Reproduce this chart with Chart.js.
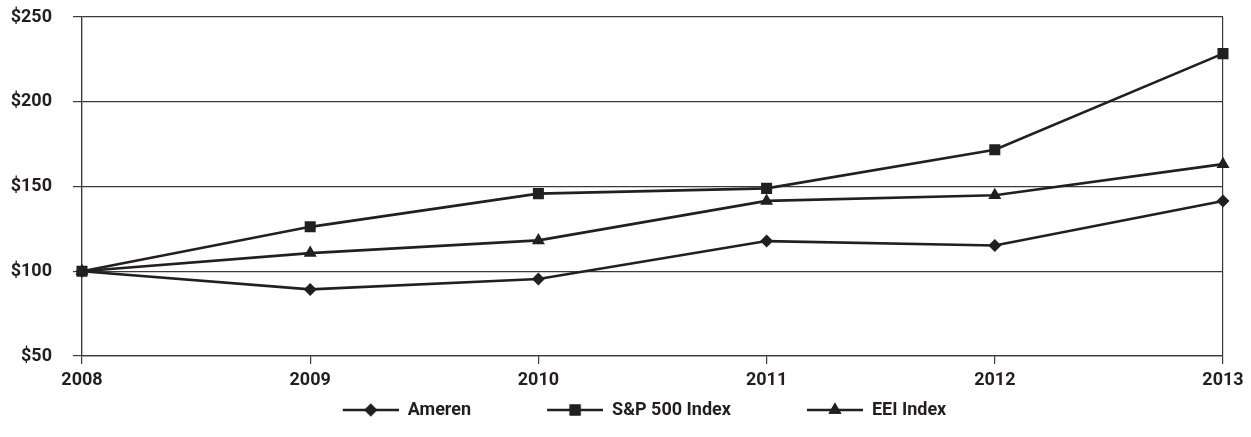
<!DOCTYPE html>
<html>
<head>
<meta charset="utf-8">
<script src="https://cdn.jsdelivr.net/npm/chart.js@4.4.0/dist/chart.umd.min.js"></script>
<style>
    html, body { margin: 0; padding: 0; background: #fff; }
    #wrap { width: 1251px; height: 437px; }
</style>
</head>
<body>
<div id="wrap"><canvas id="chart"></canvas></div>
<script>
// Data
const years = ["2008", "2009", "2010", "2011", "2012", "2013"];
const ameren = [100, 89.3, 95.4, 117.8, 115.2, 141.5];
const sp500 = [100, 126.2, 145.8, 148.9, 171.7, 228.4];
const eei = [100, 110.7, 118.2, 141.5, 144.8, 163.2];
const seriesNames = ["Ameren", "S&P 500 Index", "EEI Index"];
const yTicks = [50, 100, 150, 200, 250];

const ink = "#231f20";
const gridInk = "#3a3a3a";
const fontFamily = "Roboto, 'DejaVu Sans Condensed', sans-serif";
const fontSize = 18;

// legend icon: blank lead-in, then a short line with the marker in its middle
const iconLead = 66;
const iconLine = 56;

function legendIcon(style, radius) {
    const c = document.createElement("canvas");
    c.width = iconLead + iconLine;
    c.height = 18;
    const g = c.getContext("2d");
    g.strokeStyle = ink;
    g.lineWidth = 2.5;
    g.beginPath();
    g.moveTo(iconLead, 9);
    g.lineTo(iconLead + iconLine, 9);
    g.stroke();
    g.fillStyle = ink;
    Chart.helpers.drawPoint(g, { pointStyle: style, radius: radius, rotation: 0, borderWidth: 0 }, iconLead + iconLine / 2, 9);
    g.fill();
    return c;
}

const markers = [
    { style: "rectRot", radius: 6.5 },
    { style: "rect", radius: 7.8 },
    { style: "triangle", radius: 7.5 }
];

const values = [ameren, sp500, eei];

const datasets = values.map((vals, i) => ({
    label: seriesNames[i],
    data: vals,
    borderColor: ink,
    backgroundColor: ink,
    borderWidth: 2.6,
    pointStyle: markers[i].style,
    pointRadius: markers[i].radius,
    pointHoverRadius: markers[i].radius,
    pointBackgroundColor: ink,
    pointBorderWidth: 0,
    tension: 0,
    fill: false
}));

const ctx = document.getElementById("chart");

new Chart(ctx, {
    type: "line",
    data: {
        labels: years,
        datasets: datasets
    },
    options: {
        responsive: true,
        maintainAspectRatio: false,
        animation: false,
        layout: {
            padding: { left: 0, right: 28, top: 17, bottom: 8 }
        },
        plugins: {
            tooltip: { enabled: false },
            legend: {
                position: "bottom",
                labels: {
                    usePointStyle: true,
                    pointStyleWidth: iconLead + iconLine,
                    boxHeight: 18,
                    padding: 10,
                    color: ink,
                    font: { family: fontFamily, size: fontSize, weight: "bold" },
                    generateLabels: (chart) => chart.data.datasets.map((ds, i) => ({
                        text: ds.label,
                        pointStyle: legendIcon(markers[i].style, markers[i].radius),
                        fillStyle: ink,
                        strokeStyle: ink,
                        lineWidth: 0,
                        fontColor: ink,
                        hidden: false,
                        datasetIndex: i
                    }))
                }
            }
        },
        scales: {
            x: {
                offset: false,
                afterFit: (scale) => { scale.height = 35; },
                grid: {
                    drawOnChartArea: true,
                    color: (c) => (c.index === 0 || c.index === years.length - 1) ? gridInk : "rgba(0,0,0,0)",
                    tickColor: gridInk,
                    tickLength: 8,
                    lineWidth: 1.2
                },
                border: { display: true, color: gridInk, width: 1.2 },
                ticks: {
                    color: ink,
                    padding: 6,
                    maxRotation: 0,
                    font: { family: fontFamily, size: fontSize, weight: "bold" }
                }
            },
            y: {
                min: 50,
                max: 250,
                afterFit: (scale) => {
                    scale.width = 82;
                    scale.paddingTop = 11;
                    scale.paddingBottom = 11;
                },
                afterBuildTicks: (scale) => { scale.ticks = yTicks.map(v => ({ value: v })); },
                grid: {
                    color: gridInk,
                    tickColor: gridInk,
                    tickLength: 9,
                    lineWidth: 1.2
                },
                border: { display: true, color: gridInk, width: 1.2 },
                ticks: {
                    color: ink,
                    padding: 21,
                    callback: (v) => "$" + v,
                    font: { family: fontFamily, size: fontSize, weight: "bold" }
                }
            }
        }
    }
});
</script>
</body>
</html>
